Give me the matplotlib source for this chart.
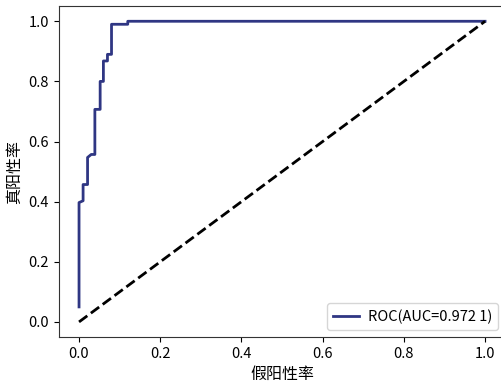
import matplotlib
matplotlib.use("Agg")
import matplotlib.pyplot as plt

plt.rcParams['font.family'] = ['Noto Sans CJK SC', 'DejaVu Sans']
plt.rcParams['axes.unicode_minus'] = False

# ROC curve points (false positive rate, true positive rate)
fpr = [0.0, 0.0, 0.01, 0.01, 0.021, 0.021, 0.03, 0.03, 0.039, 0.039,
       0.052, 0.052, 0.06, 0.06, 0.07, 0.07, 0.08, 0.08, 0.12, 0.12, 1.0]
tpr = [0.05, 0.397, 0.403, 0.457, 0.457, 0.547, 0.557, 0.557, 0.557, 0.707,
       0.707, 0.80, 0.80, 0.868, 0.868, 0.89, 0.89, 0.99, 0.99, 1.0, 1.0]
auc = "0.972 1"
diag = [0, 1]

fig = plt.figure(figsize=(5.02, 3.9), dpi=100)
# right side of the axes runs past the image edge, like the reference
ax = fig.add_axes([0.117, 0.136, 0.8897, 0.848])

ax.plot(fpr, tpr, color='#2f3683', lw=2, label='ROC(AUC=' + auc + ')')
ax.plot(diag, diag, color='black', lw=2, linestyle='--')

ax.set_xticks([0, 0.2, 0.4, 0.6, 0.8, 1.0])
ax.set_yticks([0, 0.2, 0.4, 0.6, 0.8, 1.0])
ax.tick_params(labelsize=10.5)
ax.set_xlabel('假阳性率', fontsize=11.5)
ax.set_ylabel('真阳性率', fontsize=11.5)
for s in ax.spines.values():
    s.set_color('#333333')

ax.legend(loc='lower right', fontsize=10.5, handlelength=1.8,
          handletextpad=0.6, fancybox=True)

fig.savefig('out.png', dpi=100)
